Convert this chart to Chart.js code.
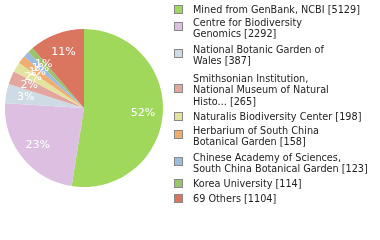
<!DOCTYPE html>
<html><head><meta charset="utf-8">
<script src="https://cdn.jsdelivr.net/npm/chart.js@4/dist/chart.umd.min.js"></script>
<style>
html,body{margin:0;padding:0;background:#fff;width:380px;height:240px;overflow:hidden}
#wrap{position:absolute;left:0;top:0;width:168px;height:216px}
#legend{position:absolute;left:0;top:0;width:380px;height:240px;font-family:"DejaVu Sans",sans-serif;font-size:9.7px;color:#222}
.item{position:absolute;left:174px}
.sq{position:absolute;left:0;width:7px;height:7px;border:1px solid #888}
.txt{position:absolute;left:19px;line-height:11.6px;white-space:nowrap}
</style></head>
<body>
<div id="wrap"><canvas id="c" width="168" height="216"></canvas></div>
<div id="legend"></div>
<script>
const categories = [
  "Mined from GenBank, NCBI",
  "Centre for Biodiversity\nGenomics",
  "National Botanic Garden of\nWales",
  "Smithsonian Institution,\nNational Museum of Natural\nHisto...",
  "Naturalis Biodiversity Center",
  "Herbarium of South China\nBotanical Garden",
  "Chinese Academy of Sciences,\nSouth China Botanical Garden",
  "Korea University",
  "69 Others"
];
const counts = [5129, 2292, 387, 265, 198, 158, 123, 114, 1104];
const pctText = ["52%", "23%", "3%", "2%", "2%", "1%", "1%", "1%", "11%"];
const colors = ["#a0d85b","#dcbfe1","#cedbe5","#e3a69e","#e3e3a0","#f1ad70","#9dbbdf","#99c46c","#da7560"];
// legend layout (first-line centre y for each entry)
const legendLineY = [9.3, 22.7, 49.3, 78.7, 117, 130.7, 157.3, 183.3, 198.7];

const pctLabels = {
  id:'pctLabels',
  afterDatasetsDraw(chart){
    const ctx = chart.ctx;
    const meta = chart.getDatasetMeta(0);
    ctx.save();
    ctx.fillStyle = '#fff';
    ctx.font = '11px "DejaVu Sans", sans-serif';
    ctx.textAlign = 'center';
    ctx.textBaseline = 'middle';
    meta.data.forEach((arc,i)=>{
      const p = arc.getProps(['x','y','startAngle','endAngle','outerRadius'],true);
      const mid = (p.startAngle+p.endAngle)/2;
      const r = p.outerRadius*0.75;
      ctx.fillText(pctText[i], p.x+Math.cos(mid)*r, p.y+Math.sin(mid)*r);
    });
    ctx.restore();
  }
};

new Chart(document.getElementById('c'),{
  type:'pie',
  data:{labels:categories.map(s=>s.replace(/\n/g,' ')),datasets:[{data:counts,backgroundColor:colors,borderWidth:0}]},
  options:{responsive:false,animation:false,layout:{padding:5},
    plugins:{legend:{display:false},tooltip:{enabled:false}}},
  plugins:[pctLabels]
});

const lg = document.getElementById('legend');
categories.forEach((name,i)=>{
  const lines = name.split('\n');
  const y0 = legendLineY[i];
  const item = document.createElement('div');
  item.className='item';
  item.style.top = (y0-5.8)+'px';
  const sq = document.createElement('div');
  sq.className='sq';
  sq.style.background = colors[i];
  sq.style.top = ((lines.length-1)*11.6/2 + 5.8 - 4.5 - (lines.length>1?1.5:0))+'px';
  const tx = document.createElement('div');
  tx.className='txt';
  tx.innerHTML = lines.map((l,k)=> k===lines.length-1 ? l+' ['+counts[i]+']' : l).join('<br>');
  item.appendChild(sq); item.appendChild(tx);
  lg.appendChild(item);
});
</script>
</body></html>
